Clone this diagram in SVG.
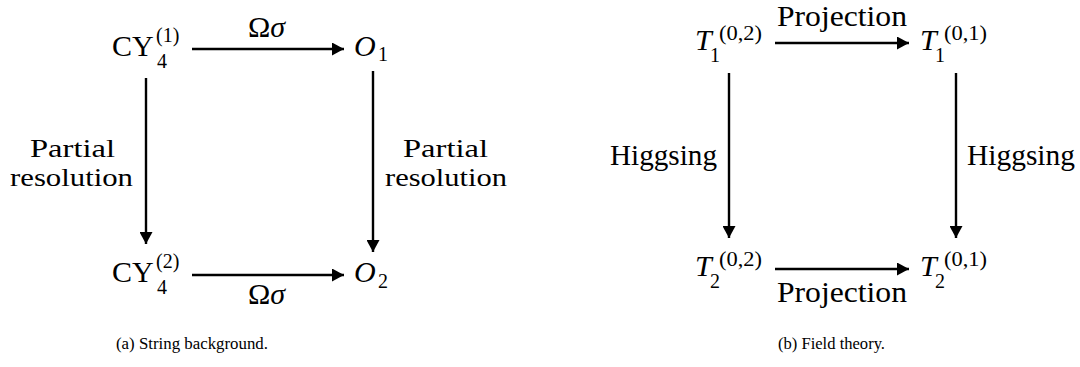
<svg xmlns="http://www.w3.org/2000/svg" width="1080" height="367" viewBox="0 0 1080 367" font-family="'Liberation Serif', 'DejaVu Serif', 'Times New Roman', serif">
<style>
.t{font-family:"Liberation Serif","DejaVu Serif","Times New Roman",serif;fill:#000}
.m{font-size:30px}
.s{font-size:20px}
.i{font-style:italic}
.lbl{font-size:30px;text-anchor:middle}
.pr{font-size:26px;text-anchor:middle}
.cap{font-size:17.5px}
.ar{stroke:#000;stroke-width:2.4;fill:none;marker-end:url(#ah)}
</style>
<defs>
<marker id="ah" viewBox="0 0 12 13" refX="12" refY="6.5" markerWidth="12" markerHeight="13" markerUnits="userSpaceOnUse" orient="auto">
<path d="M0,0 L12,6.5 L0,13 z" fill="#000"/>
</marker>
</defs>
<rect width="1080" height="367" fill="#fff"/>
<g id="connectors">
<line class="ar" x1="192" y1="49" x2="344" y2="49"/>
<line class="ar" x1="192" y1="275" x2="344" y2="275"/>
<line class="ar" x1="146" y1="78" x2="146" y2="244"/>
<line class="ar" x1="373" y1="71" x2="373" y2="252"/>
<line class="ar" x1="775" y1="43" x2="909" y2="43"/>
<line class="ar" x1="775" y1="269" x2="909" y2="269"/>
<line class="ar" x1="729" y1="73" x2="729" y2="238"/>
<line class="ar" x1="956" y1="73" x2="956" y2="238"/>
</g>
<g id="edge-labels">
<text class="t lbl" x="266.5" y="37">Ω<tspan class="i">σ</tspan></text>
<text class="t lbl" x="266.5" y="304">Ω<tspan class="i">σ</tspan></text>
<text class="t pr" x="72.5" y="157" textLength="85" lengthAdjust="spacingAndGlyphs">Partial</text>
<text class="t pr" x="71.5" y="186" textLength="123" lengthAdjust="spacingAndGlyphs">resolution</text>
<text class="t pr" x="445.5" y="157" textLength="85" lengthAdjust="spacingAndGlyphs">Partial</text>
<text class="t pr" x="446" y="186" textLength="122" lengthAdjust="spacingAndGlyphs">resolution</text>
<text class="t lbl" x="842" y="26" textLength="130" lengthAdjust="spacingAndGlyphs">Projection</text>
<text class="t lbl" x="842" y="302" textLength="130" lengthAdjust="spacingAndGlyphs">Projection</text>
<text class="t lbl" x="663.5" y="165" textLength="107" lengthAdjust="spacingAndGlyphs">Higgsing</text>
<text class="t lbl" x="1021" y="165" textLength="108" lengthAdjust="spacingAndGlyphs">Higgsing</text>
</g>
<g id="node-cy1">
<text class="t m" x="112" y="56">CY</text>
<text class="t s" x="156" y="42">(1)</text>
<text class="t s" x="157" y="68">4</text>
</g>
<g id="node-o1">
<text class="t m i" x="354" y="56">O</text>
<text class="t s" x="378" y="61">1</text>
</g>
<g id="node-cy2">
<text class="t m" x="112" y="282">CY</text>
<text class="t s" x="156" y="268">(2)</text>
<text class="t s" x="157" y="294">4</text>
</g>
<g id="node-o2">
<text class="t m i" x="354" y="282">O</text>
<text class="t s" x="378" y="288">2</text>
</g>
<g id="node-t1-02">
<text class="t m i" x="695" y="50">T</text>
<text class="t s" x="710" y="62">1</text>
<text class="t s" x="719" y="40" textLength="43" lengthAdjust="spacingAndGlyphs">(0,2)</text>
</g>
<g id="node-t1-01">
<text class="t m i" x="920" y="50">T</text>
<text class="t s" x="935" y="62">1</text>
<text class="t s" x="944" y="40" textLength="43" lengthAdjust="spacingAndGlyphs">(0,1)</text>
</g>
<g id="node-t2-02">
<text class="t m i" x="695" y="276">T</text>
<text class="t s" x="710" y="288">2</text>
<text class="t s" x="719" y="266" textLength="43" lengthAdjust="spacingAndGlyphs">(0,2)</text>
</g>
<g id="node-t2-01">
<text class="t m i" x="920" y="276">T</text>
<text class="t s" x="935" y="288">2</text>
<text class="t s" x="944" y="266" textLength="43" lengthAdjust="spacingAndGlyphs">(0,1)</text>
</g>
<g id="captions">
<text class="t cap" x="116" y="349" textLength="152" lengthAdjust="spacingAndGlyphs">(a) String background.</text>
<text class="t cap" x="778" y="349" textLength="107" lengthAdjust="spacingAndGlyphs">(b) Field theory.</text>
</g>
</svg>
